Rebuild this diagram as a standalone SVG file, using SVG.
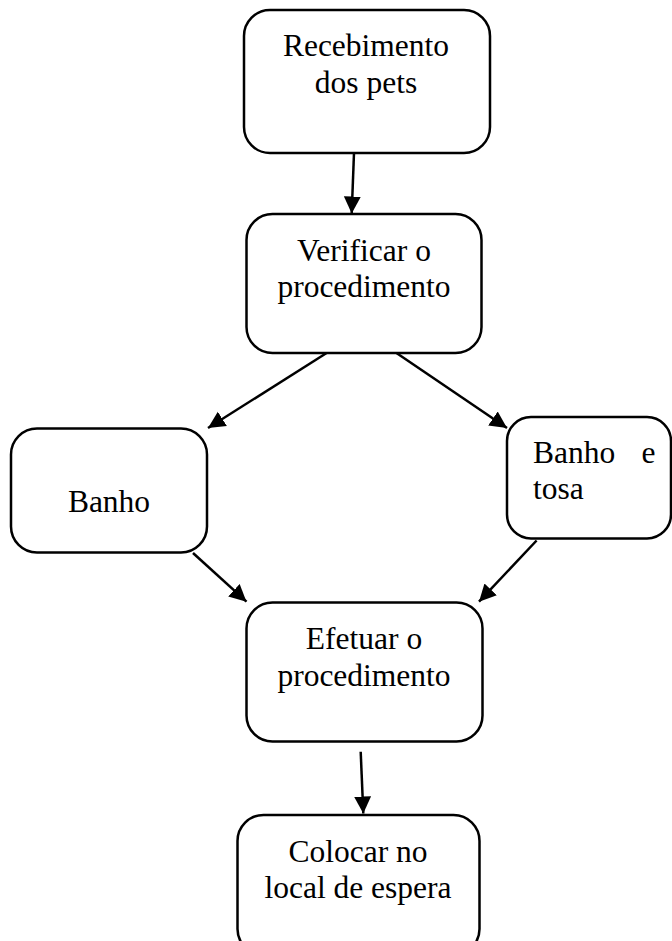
<svg xmlns="http://www.w3.org/2000/svg" width="672" height="941" viewBox="0 0 672 941">
<style>
.box{fill:#fff;stroke:#000;stroke-width:2.5}
.t{font-family:"Liberation Serif","Times New Roman",serif;font-size:31.5px;fill:#000}
.c{text-anchor:middle}
.e{stroke:#000;stroke-width:2.5;fill:none;marker-end:url(#ah)}
</style>
<defs>
<marker id="ah" markerUnits="userSpaceOnUse" markerWidth="20" markerHeight="20" viewBox="0 0 20 20" refX="17" refY="9" orient="auto">
<path d="M0,0.5 L17,9 L0,17.5 Z" fill="#000"/>
</marker>
</defs>
<rect width="672" height="941" fill="#fff"/>
<g id="connectors">
<line class="e" x1="354" y1="153" x2="351.7" y2="213.5"/>
<line class="e" x1="326.6" y1="353" x2="208" y2="428"/>
<line class="e" x1="396.5" y1="353" x2="507" y2="428"/>
<line class="e" x1="193" y1="553" x2="246.5" y2="601.7"/>
<line class="e" x1="536.6" y1="540.5" x2="479" y2="601.7"/>
<line class="e" x1="360.7" y1="751.7" x2="363.3" y2="813.5"/>
</g>
<g id="n1">
<rect class="box" x="244" y="10" width="246" height="143" rx="26"/>
<text class="t c" x="366" y="56">Recebimento</text>
<text class="t c" x="366" y="93">dos pets</text>
</g>
<g id="n2">
<rect class="box" x="246.5" y="214" width="235" height="139" rx="26"/>
<text class="t c" x="364" y="261">Verificar o</text>
<text class="t c" x="364" y="297">procedimento</text>
</g>
<g id="n3">
<rect class="box" x="11" y="428.5" width="196" height="124" rx="26"/>
<text class="t c" x="109" y="511.7">Banho</text>
</g>
<g id="n4">
<rect class="box" x="507" y="417" width="164" height="121.5" rx="24"/>
<text class="t" x="533" y="462.7">Banho</text>
<text class="t" x="641.5" y="462.7">e</text>
<text class="t" x="533" y="499.3">tosa</text>
</g>
<g id="n5">
<rect class="box" x="246.5" y="602.5" width="236" height="139" rx="26"/>
<text class="t c" x="364" y="649">Efetuar o</text>
<text class="t c" x="364" y="685.7">procedimento</text>
</g>
<g id="n6">
<rect class="box" x="237.5" y="815" width="242" height="140" rx="26"/>
<text class="t c" x="358" y="862">Colocar no</text>
<text class="t c" x="358" y="898">local de espera</text>
</g>
</svg>
